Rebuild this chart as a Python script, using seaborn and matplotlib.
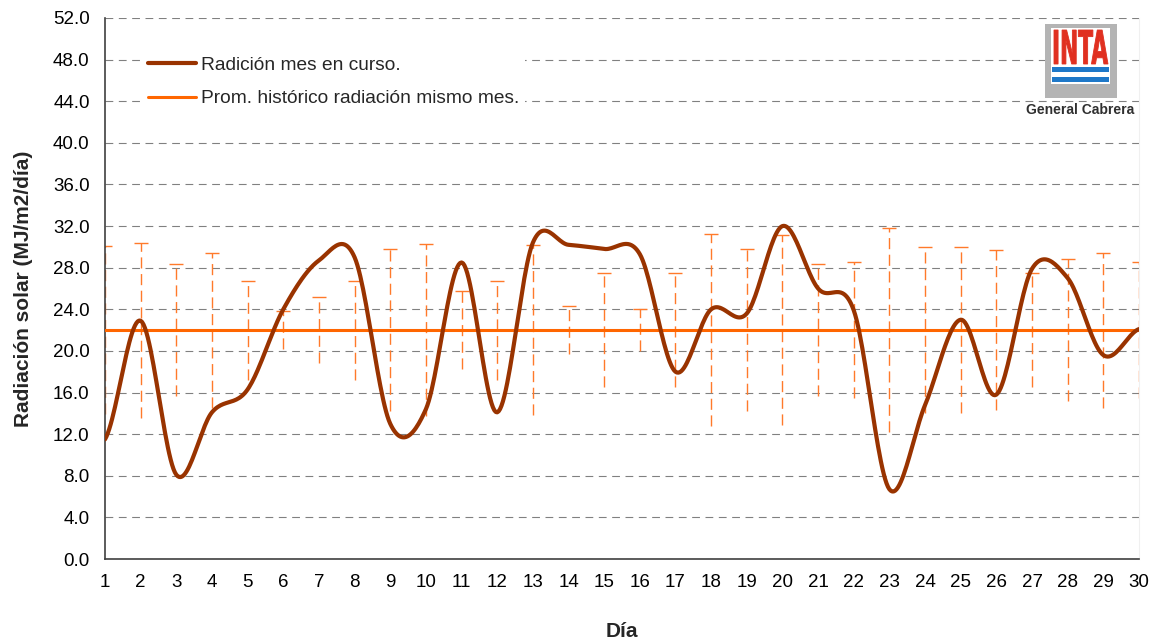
import numpy as np
import pandas as pd
import matplotlib
matplotlib.use("Agg")
import matplotlib.pyplot as plt
import seaborn as sns
from matplotlib.patches import Rectangle, PathPatch
from matplotlib.textpath import TextPath
from matplotlib.font_manager import FontProperties
from matplotlib.transforms import Affine2D

# Daily values
days = list(range(1, 31))
radiacion = [11.5, 22.9, 8.1, 14.1, 16.3, 24.0, 28.7, 29.0, 13.0, 14.4,
             28.5, 14.1, 30.4, 30.2, 29.8, 29.3, 18.0, 24.0, 23.6, 32.0,
             26.0, 23.9, 6.7, 14.8, 23.0, 15.8, 27.9, 27.0, 19.6, 22.1]
prom_historico = 22.0
desvio = [8.1, 8.4, 6.35, 7.45, 4.75, 1.85, 3.15, 4.75, 7.8, 8.3,
          3.75, 4.75, 8.2, 2.3, 5.45, 2.05, 5.45, 9.25, 7.8, 9.1,
          6.35, 6.5, 9.8, 7.95, 8.0, 7.7, 5.5, 6.8, 7.45, 6.55]
yticks = np.arange(0, 52.1, 4)

BROWN = "#993300"
ORANGE = "#FF6600"


def smooth_curve(x, y, n=25):
    # Catmull-Rom style smoothing, like Excel's "smoothed line"
    x = np.asarray(x, float)
    y = np.asarray(y, float)
    xs, ys = [], []
    t = np.linspace(0, 1, n, endpoint=False)
    for i in range(len(y) - 1):
        p0 = y[i - 1] if i > 0 else y[i]
        p1, p2 = y[i], y[i + 1]
        p3 = y[i + 2] if i + 2 < len(y) else y[i + 1]
        m1 = (p2 - p0) / 2
        m2 = (p3 - p1) / 2
        h00 = 2 * t**3 - 3 * t**2 + 1
        h10 = t**3 - 2 * t**2 + t
        h01 = -2 * t**3 + 3 * t**2
        h11 = t**3 - t**2
        ys.append(h00 * p1 + h10 * m1 + h01 * p2 + h11 * m2)
        xs.append(x[i] + t * (x[i + 1] - x[i]))
    xs.append([x[-1]])
    ys.append([y[-1]])
    return np.concatenate(xs), np.concatenate(ys)


sns.set_style("white")
plt.rcParams['font.family'] = ['Liberation Sans', 'DejaVu Sans']
plt.rcParams['font.size'] = 13.5

fig = plt.figure(figsize=(11.57, 6.42), dpi=100)
ax = fig.add_axes([105 / 1157, 1 - 559 / 642, 1034 / 1157, 541 / 642])

# historical spread per day (dashed bars, cap on top only)
eb = ax.errorbar(days, [prom_historico] * len(days), yerr=desvio, fmt='none',
                 ecolor="#FF7A2A", elinewidth=1.0, capsize=5, capthick=1.0,
                 zorder=2)
eb[2][0].set_linestyle((0, (8, 4)))
eb[1][0].set_visible(False)

xs, ys = smooth_curve(days, radiacion)
curve = pd.DataFrame({"dia": xs, "rad": ys})
sns.lineplot(data=curve, x="dia", y="rad", color=BROWN, linewidth=3.0,
             sort=False, ax=ax, zorder=4, label="Radición mes en curso.")

prom = pd.DataFrame({"dia": days, "prom": [prom_historico] * len(days)})
sns.lineplot(data=prom, x="dia", y="prom", color=ORANGE, linewidth=2.2,
             ax=ax, zorder=3, label="Prom. histórico radiación mismo mes.")

ax.set_xlim(1, 30)
ax.set_ylim(0, 52)
ax.set_xticks(days)
ax.set_yticks(yticks)
ax.set_yticklabels([f"{v:.1f}" for v in yticks])
ax.yaxis.grid(True, color="#808080", linestyle=(0, (7, 5)), linewidth=0.8)
ax.set_axisbelow(True)
ax.tick_params(axis='both', direction='out', length=4, width=1,
               color="#404040", labelsize=13.5, labelcolor="black")
ax.tick_params(axis='y', pad=7)
ax.tick_params(axis='x', pad=7)

ax.spines["top"].set_visible(False)
ax.spines["right"].set_color("#f0f0f0")
for side in ["left", "bottom"]:
    ax.spines[side].set_color("#404040")
    ax.spines[side].set_linewidth(1.2)

ax.set_ylabel("Radiación solar (MJ/m2/día)", fontsize=15, fontweight="bold")
ax.yaxis.set_label_coords(-0.07, 0.5)
ax.set_xlabel("Día", fontsize=15, fontweight="bold")
ax.xaxis.set_label_coords(0.5, -0.117)

leg = ax.legend(loc="upper left", bbox_to_anchor=(0.036, 0.94),
                frameon=True, facecolor="white", edgecolor="none",
                framealpha=1, fontsize=13.8, handlelength=2.5,
                handletextpad=0.25, labelspacing=0.85, borderpad=0.3,
                borderaxespad=0)

# INTA logo, drawn in pixel coordinates of the figure
lax = fig.add_axes([1015 / 1157, 1 - 122 / 642, 130 / 1157, 104 / 642])
lax.set_xlim(1015, 1145)
lax.set_ylim(122, 18)
lax.axis("off")
lax.add_patch(Rectangle((1045, 24), 72, 74, facecolor="#B4B4B4",
                        edgecolor="none"))
lax.add_patch(Rectangle((1051, 28), 59, 56, facecolor="white",
                        edgecolor="none"))
lax.add_patch(Rectangle((1052, 67), 57, 5, facecolor="#1E78C8",
                        edgecolor="none"))
lax.add_patch(Rectangle((1052, 77), 57, 5, facecolor="#1E78C8",
                        edgecolor="none"))
tp = TextPath((0, 0), "INTA", size=10,
              prop=FontProperties(family="DejaVu Sans", weight="bold"))
bb = tp.get_extents()
sx = 54 / bb.width
sy = 34 / bb.height
tr = Affine2D().translate(-bb.x0, -bb.y0).scale(sx, -sy).translate(1054, 64)
lax.add_patch(PathPatch(tr.transform_path(tp), facecolor="#E03020",
                        edgecolor="#E03020", linewidth=0.6))
lax.text(1080.5, 110, "General Cabrera", ha="center", va="center",
         fontsize=10, fontweight="bold", color="#303030",
         family=['Liberation Sans', 'DejaVu Sans'])

fig.savefig("out.png", dpi=100)
